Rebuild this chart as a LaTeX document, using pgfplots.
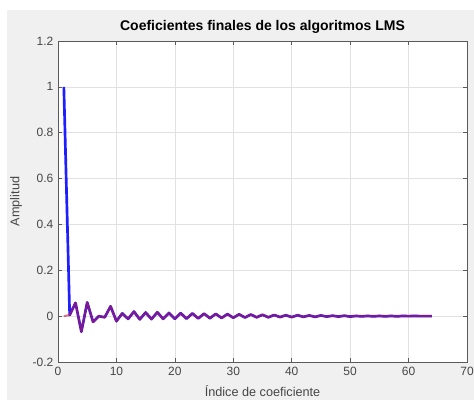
\documentclass[border=0pt]{standalone}
\usepackage{pgfplots}
\pgfplotsset{compat=1.18}
\usepackage{fontspec}
\setmainfont{Liberation Sans}
\usetikzlibrary{calc,backgrounds}
\definecolor{figgray}{RGB}{240,240,240}
\definecolor{axgray}{RGB}{90,90,90}
\definecolor{txtgray}{RGB}{70,70,70}
\definecolor{gridgray}{RGB}{225,225,225}
\definecolor{mblue}{RGB}{30,30,255}
\definecolor{mred}{RGB}{200,20,60}
\begin{document}
\begin{tikzpicture}
\begin{axis}[
  name=ax, at={(0,0)}, anchor=south west,
  scale only axis, width=306.75pt, height=240.75pt,
  xmin=0, xmax=70, ymin=-0.2, ymax=1.2,
  xtick={0,10,...,70}, ytick={-0.2,0,0.2,0.4,0.6,0.8,1,1.2},
  yticklabels={-0.2,0,0.2,0.4,0.6,0.8,1,1.2},
  /pgf/number format/assume math mode=true,
  grid=major, major grid style={gridgray, line width=0.5pt},
  axis line style={axgray, line width=0.6pt},
  tick style={axgray, line width=0.5pt},
  tick align=inside, major tick length=3pt,
  xtick pos=both, ytick pos=both,
  ticklabel style={font=\fontsize{9}{10}\selectfont, text=txtgray},
  axis background/.style={fill=white},
  title={\textbf{Coeficientes finales de los algoritmos LMS}},
  title style={font=\fontsize{10.5}{12}\selectfont, yshift=-4pt},
  xlabel={Índice de coeficiente},
  ylabel={Amplitud},
  label style={font=\fontsize{9.5}{10}\selectfont, text=txtgray},
  xlabel style={yshift=-0.5pt},
  ylabel style={yshift=1pt},
]
\addplot[mblue, line width=2pt, line join=round] coordinates {
(1,1) (2,0.005) (3,0.058) (4,-0.068) (5,0.06) (6,-0.025) (7,0.0) (8,-0.005)
(9,0.043) (10,-0.022) (11,0.012) (12,-0.012) (13,0.02) (14,-0.014) (15,0.016) (16,-0.013)
(17,0.017) (18,-0.012) (19,0.014) (20,-0.012) (21,0.013) (22,-0.011) (23,0.012) (24,-0.010)
(25,0.011) (26,-0.009) (27,0.010) (28,-0.008) (29,0.009) (30,-0.007) (31,0.008) (32,-0.006)
(33,0.007) (34,-0.005) (35,0.006) (36,-0.005) (37,0.005) (38,-0.004) (39,0.004) (40,-0.004)
(41,0.004) (42,-0.003) (43,0.003) (44,-0.003) (45,0.003) (46,-0.002) (47,0.002) (48,-0.002)
(49,0.002) (50,-0.002) (51,0.001) (52,-0.001) (53,0.001) (54,-0.001) (55,0.001) (56,-0.001)
(57,0.001) (58,-0.001) (59,0.001) (60,0) (61,0.001) (62,0) (63,0) (64,0)
};
\addplot[mred, line width=1.5pt, opacity=0.6, line join=round] coordinates {
(1,0) (2,0.005) (3,0.058) (4,-0.068) (5,0.06) (6,-0.025) (7,0.0) (8,-0.005)
(9,0.043) (10,-0.022) (11,0.012) (12,-0.012) (13,0.02) (14,-0.014) (15,0.016) (16,-0.013)
(17,0.017) (18,-0.012) (19,0.014) (20,-0.012) (21,0.013) (22,-0.011) (23,0.012) (24,-0.010)
(25,0.011) (26,-0.009) (27,0.010) (28,-0.008) (29,0.009) (30,-0.007) (31,0.008) (32,-0.006)
(33,0.007) (34,-0.005) (35,0.006) (36,-0.005) (37,0.005) (38,-0.004) (39,0.004) (40,-0.004)
(41,0.004) (42,-0.003) (43,0.003) (44,-0.003) (45,0.003) (46,-0.002) (47,0.002) (48,-0.002)
(49,0.002) (50,-0.002) (51,0.001) (52,-0.001) (53,0.001) (54,-0.001) (55,0.001) (56,-0.001)
(57,0.001) (58,-0.001) (59,0.001) (60,0) (61,0.001) (62,0) (63,0) (64,0)
};
\end{axis}
\begin{pgfonlayer}{background}
\fill[white] ($(ax.south west)+(-43.5pt,-28.5pt)$) rectangle ($(ax.north east)+(5.25pt,30.75pt)$);
\fill[figgray] ($(ax.south west)+(-38.25pt,-28.5pt)$) rectangle ($(ax.north east)+(5.25pt,23.25pt)$);
\end{pgfonlayer}
\pgfresetboundingbox
\useasboundingbox ($(ax.south west)+(-43.5pt,-28.5pt)$) rectangle ($(ax.north east)+(5.25pt,30.75pt)$);
\end{tikzpicture}
\end{document}
